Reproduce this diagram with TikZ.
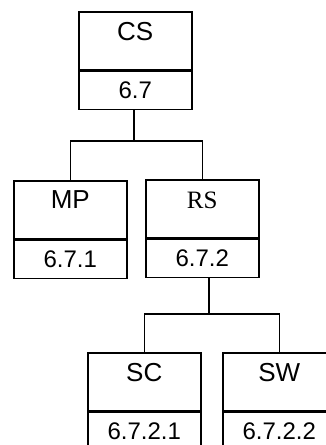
\documentclass[tikz,border=0pt]{standalone}
\usepackage{fontspec}
\setmainfont{Liberation Sans}
\newfontfamily\seriffont{Liberation Serif}
\begin{document}
\begin{tikzpicture}[x=1pt,y=-1pt,
  boxtop/.style={draw, line width=1.5pt, minimum width=113pt, minimum height=58pt, inner sep=0pt, anchor=north west},
  boxbot/.style={draw, line width=1.5pt, minimum width=113pt, minimum height=38pt, inner sep=0pt, anchor=north},
  lbl/.style={font=\fontsize{24}{26}\selectfont, inner sep=0pt},
  ttl/.style={font=\fontsize{26}{28}\selectfont, inner sep=0pt},
  conn/.style={line width=1.5pt}]
\useasboundingbox (0,0) rectangle (326,445);
\clip (0,0) rectangle (326,445);
\fill[white] (0,0) rectangle (326,445);
% CS
\node[boxtop] (cs) at (78,11) {};
\node[boxbot] (csn) at (cs.south) {};
\node[ttl] (csl) at ([yshift=-21pt]cs.north) {CS};
\node[lbl] (csnl) at (csn.center) {6.7};
% MP
\node[boxtop] (mp) at (13,180) {};
\node[boxbot] (mpn) at (mp.south) {};
\node[ttl] (mpl) at ([yshift=-20pt]mp.north) {MP};
\node[lbl] (mpnl) at (mpn.center) {6.7.1};
% RS
\node[boxtop] (rs) at (145,179) {};
\node[boxbot] (rsn) at (rs.south) {};
\node[ttl, font=\fontsize{25}{27}\selectfont\seriffont] (rsl) at ([yshift=-21pt]rs.north) {RS};
\node[lbl] (rsnl) at (rsn.center) {6.7.2};
% SC
\node[boxtop] (sc) at (87,352) {};
\node[boxbot] (scn) at (sc.south) {};
\node[ttl] (scl) at ([yshift=-21pt]sc.north) {SC};
\node[lbl] (scnl) at (scn.center) {6.7.2.1};
% SW
\node[boxtop] (sw) at (222,352) {};
\node[boxbot] (swn) at (sw.south) {};
\node[ttl] (swl) at ([yshift=-21pt]sw.north) {SW};
\node[lbl] (swnl) at (swn.center) {6.7.2.2};
% connectors
\coordinate (j1) at (134,141);
\draw[conn] (csn.south -| j1) -- (j1);
\draw[conn] (mp.north) |- (j1) -| (rs.north);
\coordinate (j2) at (209,314);
\draw[conn] (rsn.south -| j2) -- (j2);
\draw[conn] (sc.north) |- (j2) -| (sw.north);
\end{tikzpicture}
\end{document}
